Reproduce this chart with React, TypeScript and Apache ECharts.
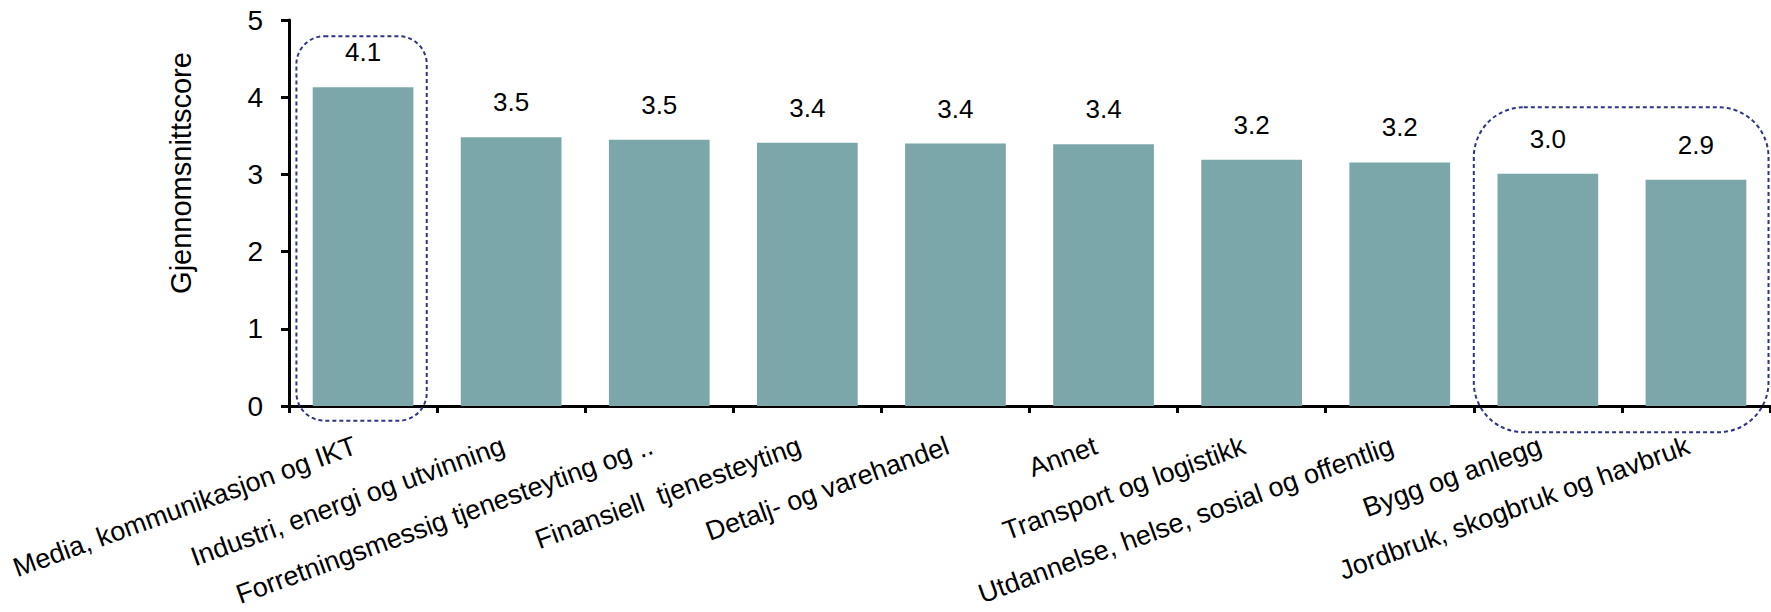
import React, { useEffect, useRef } from "react";
import * as echarts from "echarts";

const categories = [
  "Media, kommunikasjon og IKT",
  "Industri, energi og utvinning",
  "Forretningsmessig tjenesteyting og ..",
  "Finansiell  tjenesteyting",
  "Detalj- og varehandel",
  "Annet",
  "Transport og logistikk",
  "Utdannelse, helse, sosial og offentlig",
  "Bygg og anlegg",
  "Jordbruk, skogbruk og havbruk",
];
const scores = [4.13, 3.48, 3.45, 3.41, 3.4, 3.39, 3.19, 3.155, 3.01, 2.93];
const yTicks = [0, 1, 2, 3, 4, 5];
const axisTitle = "Gjennomsnittscore";
// highlighted category ranges
const highlightFirst = [0, 8];
const highlightLast = [0, 9];
const highlightTop = [4.79, 3.87];
const highlightBottom = [-0.19, -0.34];

const FONT = "'Liberation Sans', Arial, Helvetica, sans-serif";

export default function App() {
  const ref = useRef<HTMLDivElement>(null);
  useEffect(() => {
    document.body.style.margin = "0";
    const el = ref.current!;
    const chart = echarts.init(el, null, { renderer: "svg" });
    const option: any = {
      animation: false,
      backgroundColor: "#ffffff",
      grid: { left: 289, right: 1, top: 20, bottom: 206, containLabel: false },
      xAxis: {
        type: "category",
        data: categories,
        boundaryGap: true,
        axisLine: { show: true, lineStyle: { color: "#000", width: 3 } },
        axisTick: { show: true, alignWithLabel: false, length: 7, lineStyle: { color: "#000", width: 3 } },
        axisLabel: {
          interval: 0,
          rotate: 20,
          margin: 36,
          align: "right",
          verticalAlign: "middle",
          padding: [0, 8, 0, 0],
          fontSize: 27,
          color: "#000",
          fontFamily: FONT,
        },
        splitLine: { show: false },
      },
      yAxis: {
        type: "value",
        min: yTicks[0],
        max: yTicks[yTicks.length - 1],
        interval: 1,
        axisLine: { show: true, lineStyle: { color: "#000", width: 3 } },
        axisTick: { show: true, length: 8, lineStyle: { color: "#000", width: 3 } },
        axisLabel: { fontSize: 28, color: "#000", margin: 26, fontFamily: FONT },
        splitLine: { show: false },
      },
      series: [
        {
          type: "bar",
          data: scores,
          barCategoryGap: "32%",
          itemStyle: { color: "#7BA7AA" },
          label: {
            show: true,
            position: "top",
            distance: 22,
            fontSize: 26,
            color: "#000",
            fontFamily: FONT,
            formatter: (p: any) => Number(p.value).toFixed(1),
          },
        },
      ],
    };
    chart.setOption(option);

    const px = (i: number, v: number) => chart.convertToPixel({ gridIndex: 0 }, [i, v]) as number[];
    const band = px(1, 0)[0] - px(0, 0)[0];
    const pads = [
      [0.45, 0.43, 28],
      [0.5, 0.49, 50],
    ];
    const rects = highlightFirst.map((f, k) => {
      const l = highlightLast[k];
      const x0 = px(f, 0)[0] - pads[k][0] * band;
      const x1 = px(l, 0)[0] + pads[k][1] * band;
      const y0 = px(f, highlightTop[k])[1];
      const y1 = px(f, highlightBottom[k])[1];
      return {
        type: "rect",
        z: 100,
        shape: { x: x0, y: y0, width: x1 - x0, height: y1 - y0, r: pads[k][2] },
        style: { fill: "none", stroke: "#2E3589", lineWidth: 2, lineDash: [4, 3] },
      };
    });
    chart.setOption({
      graphic: [
        ...rects,
        {
          type: "text",
          x: 181,
          y: 173,
          rotation: Math.PI / 2,
          style: {
            text: axisTitle,
            fontSize: 29,
            fontFamily: FONT,
            fill: "#000",
            textAlign: "center",
            textVerticalAlign: "middle",
          },
        },
      ],
    });
    return () => chart.dispose();
  }, []);
  return <div ref={ref} style={{ width: 1771, height: 612 }} />;
}
